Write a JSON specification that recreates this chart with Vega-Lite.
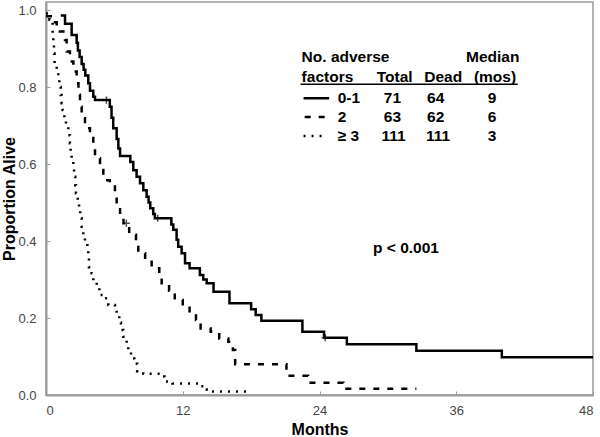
{
  "$schema": "https://vega.github.io/schema/vega-lite/v6.json",
  "autosize": "none",
  "width": 547,
  "height": 393,
  "padding": {"left": 46, "top": 2, "right": 7, "bottom": 42},
  "background": "white",
  "config": {
    "view": {"stroke": "#9a9a9a", "strokeWidth": 1.5},
    "axis": {
      "grid": false,
      "domainColor": "#9a9a9a",
      "domainWidth": 2,
      "tickColor": "#9a9a9a",
      "tickWidth": 1,
      "labelColor": "#444",
      "labelFont": "Liberation Sans",
      "labelFontSize": 13,
      "titleFont": "Liberation Sans",
      "titleFontSize": 16,
      "titleFontWeight": "bold",
      "titleColor": "#000"
    },
    "text": {"font": "Liberation Sans", "fontWeight": "bold", "fontSize": 15.5, "baseline": "middle", "color": "#000"}
  },
  "datasets": {
    "curves": [
      {"g": "a", "m": 1.3, "p": 0.986}, {"g": "a", "m": 1.67, "p": 0.964}, {"g": "a", "m": 2.25, "p": 0.935},
      {"g": "a", "m": 2.69, "p": 0.915}, {"g": "a", "m": 2.8, "p": 0.895}, {"g": "a", "m": 2.95, "p": 0.878},
      {"g": "a", "m": 3.13, "p": 0.86}, {"g": "a", "m": 3.3, "p": 0.845}, {"g": "a", "m": 3.45, "p": 0.83},
      {"g": "a", "m": 3.71, "p": 0.81}, {"g": "a", "m": 3.86, "p": 0.79}, {"g": "a", "m": 4.15, "p": 0.775},
      {"g": "a", "m": 4.3, "p": 0.766}, {"g": "a", "m": 5.6, "p": 0.749}, {"g": "a", "m": 5.75, "p": 0.72},
      {"g": "a", "m": 5.9, "p": 0.693}, {"g": "a", "m": 6.2, "p": 0.665}, {"g": "a", "m": 6.35, "p": 0.64},
      {"g": "a", "m": 6.5, "p": 0.621}, {"g": "a", "m": 7.4, "p": 0.605}, {"g": "a", "m": 7.66, "p": 0.584},
      {"g": "a", "m": 7.95, "p": 0.567}, {"g": "a", "m": 8.25, "p": 0.55}, {"g": "a", "m": 8.54, "p": 0.532},
      {"g": "a", "m": 8.83, "p": 0.515}, {"g": "a", "m": 9.0, "p": 0.5}, {"g": "a", "m": 9.15, "p": 0.485},
      {"g": "a", "m": 9.41, "p": 0.47}, {"g": "a", "m": 9.55, "p": 0.459}, {"g": "a", "m": 11.0, "p": 0.443},
      {"g": "a", "m": 11.17, "p": 0.429}, {"g": "a", "m": 11.46, "p": 0.403}, {"g": "a", "m": 11.6, "p": 0.385},
      {"g": "a", "m": 11.9, "p": 0.368}, {"g": "a", "m": 12.2, "p": 0.342}, {"g": "a", "m": 12.6, "p": 0.329},
      {"g": "a", "m": 13.5, "p": 0.312}, {"g": "a", "m": 13.8, "p": 0.3}, {"g": "a", "m": 14.1, "p": 0.29},
      {"g": "a", "m": 14.7, "p": 0.268}, {"g": "a", "m": 16.1, "p": 0.238}, {"g": "a", "m": 18.0, "p": 0.223},
      {"g": "a", "m": 18.4, "p": 0.208}, {"g": "a", "m": 18.9, "p": 0.193}, {"g": "a", "m": 22.5, "p": 0.164},
      {"g": "a", "m": 24.4, "p": 0.149}, {"g": "a", "m": 26.4, "p": 0.132}, {"g": "a", "m": 32.5, "p": 0.115},
      {"g": "a", "m": 40.0, "p": 0.098}, {"g": "a", "m": 48.0, "p": 0.098},

      {"g": "b", "m": 0, "p": 0.984}, {"g": "b", "m": 0.64, "p": 0.968}, {"g": "b", "m": 0.94, "p": 0.944},
      {"g": "b", "m": 1.67, "p": 0.922}, {"g": "b", "m": 1.81, "p": 0.892}, {"g": "b", "m": 2.1, "p": 0.866},
      {"g": "b", "m": 2.4, "p": 0.84}, {"g": "b", "m": 2.69, "p": 0.81}, {"g": "b", "m": 2.85, "p": 0.78},
      {"g": "b", "m": 2.98, "p": 0.749}, {"g": "b", "m": 3.13, "p": 0.719}, {"g": "b", "m": 3.42, "p": 0.693},
      {"g": "b", "m": 3.86, "p": 0.671}, {"g": "b", "m": 4.15, "p": 0.641}, {"g": "b", "m": 4.3, "p": 0.615},
      {"g": "b", "m": 4.74, "p": 0.589}, {"g": "b", "m": 5.03, "p": 0.558}, {"g": "b", "m": 5.6, "p": 0.545},
      {"g": "b", "m": 6.05, "p": 0.519}, {"g": "b", "m": 6.2, "p": 0.489}, {"g": "b", "m": 6.5, "p": 0.468},
      {"g": "b", "m": 6.8, "p": 0.446}, {"g": "b", "m": 7.3, "p": 0.416}, {"g": "b", "m": 7.9, "p": 0.396},
      {"g": "b", "m": 8.1, "p": 0.368}, {"g": "b", "m": 8.7, "p": 0.346}, {"g": "b", "m": 9.27, "p": 0.329},
      {"g": "b", "m": 9.94, "p": 0.312}, {"g": "b", "m": 10.15, "p": 0.286}, {"g": "b", "m": 10.8, "p": 0.271},
      {"g": "b", "m": 11.3, "p": 0.247}, {"g": "b", "m": 12.0, "p": 0.232}, {"g": "b", "m": 12.6, "p": 0.213},
      {"g": "b", "m": 13.16, "p": 0.195}, {"g": "b", "m": 13.57, "p": 0.173}, {"g": "b", "m": 14.45, "p": 0.164},
      {"g": "b", "m": 15.2, "p": 0.147}, {"g": "b", "m": 16.0, "p": 0.138}, {"g": "b", "m": 16.4, "p": 0.117},
      {"g": "b", "m": 16.6, "p": 0.08}, {"g": "b", "m": 21.1, "p": 0.05}, {"g": "b", "m": 23.0, "p": 0.032},
      {"g": "b", "m": 26.1, "p": 0.016}, {"g": "b", "m": 32.5, "p": 0.016},

      {"g": "c", "m": 0, "p": 0.991}, {"g": "c", "m": 0.3, "p": 0.975}, {"g": "c", "m": 0.58, "p": 0.935},
      {"g": "c", "m": 0.64, "p": 0.909}, {"g": "c", "m": 0.7, "p": 0.887}, {"g": "c", "m": 0.75, "p": 0.861},
      {"g": "c", "m": 0.94, "p": 0.844}, {"g": "c", "m": 1.08, "p": 0.822}, {"g": "c", "m": 1.17, "p": 0.8},
      {"g": "c", "m": 1.29, "p": 0.779}, {"g": "c", "m": 1.37, "p": 0.758}, {"g": "c", "m": 1.46, "p": 0.74},
      {"g": "c", "m": 1.61, "p": 0.718}, {"g": "c", "m": 1.75, "p": 0.697}, {"g": "c", "m": 1.96, "p": 0.675},
      {"g": "c", "m": 2.1, "p": 0.654}, {"g": "c", "m": 2.16, "p": 0.632}, {"g": "c", "m": 2.25, "p": 0.61},
      {"g": "c", "m": 2.4, "p": 0.589}, {"g": "c", "m": 2.46, "p": 0.567}, {"g": "c", "m": 2.57, "p": 0.545},
      {"g": "c", "m": 2.63, "p": 0.524}, {"g": "c", "m": 2.78, "p": 0.502}, {"g": "c", "m": 2.9, "p": 0.48},
      {"g": "c", "m": 3.0, "p": 0.459}, {"g": "c", "m": 3.13, "p": 0.437}, {"g": "c", "m": 3.27, "p": 0.417},
      {"g": "c", "m": 3.42, "p": 0.397}, {"g": "c", "m": 3.63, "p": 0.377}, {"g": "c", "m": 3.71, "p": 0.355},
      {"g": "c", "m": 3.77, "p": 0.332}, {"g": "c", "m": 4.0, "p": 0.316}, {"g": "c", "m": 4.15, "p": 0.296},
      {"g": "c", "m": 4.45, "p": 0.279}, {"g": "c", "m": 4.68, "p": 0.26}, {"g": "c", "m": 5.18, "p": 0.251},
      {"g": "c", "m": 5.47, "p": 0.234}, {"g": "c", "m": 6.05, "p": 0.225}, {"g": "c", "m": 6.2, "p": 0.205},
      {"g": "c", "m": 6.43, "p": 0.188}, {"g": "c", "m": 6.58, "p": 0.169}, {"g": "c", "m": 6.78, "p": 0.151},
      {"g": "c", "m": 7.08, "p": 0.134}, {"g": "c", "m": 7.22, "p": 0.112}, {"g": "c", "m": 7.46, "p": 0.095},
      {"g": "c", "m": 7.75, "p": 0.081}, {"g": "c", "m": 8.0, "p": 0.062}, {"g": "c", "m": 8.54, "p": 0.055},
      {"g": "c", "m": 10.0, "p": 0.048}, {"g": "c", "m": 10.4, "p": 0.035}, {"g": "c", "m": 11.1, "p": 0.03},
      {"g": "c", "m": 13.5, "p": 0.023}, {"g": "c", "m": 13.9, "p": 0.014}, {"g": "c", "m": 14.1, "p": 0.009},
      {"g": "c", "m": 18.0, "p": 0.009}
    ],
    "censored": [
      {"g": "a", "m": 5.3, "p": 0.766}, {"g": "a", "m": 9.8, "p": 0.459},
      {"g": "a", "m": 24.5, "p": 0.149}, {"g": "b", "m": 7.05, "p": 0.446}
    ],
    "keys": [
      {"g": "a", "m": 22.6, "p": 0.771}, {"g": "a", "m": 24.85, "p": 0.771},
      {"g": "b", "m": 22.7, "p": 0.722}, {"g": "b", "m": 24.6, "p": 0.722},
      {"g": "c", "m": 22.6, "p": 0.673}, {"g": "c", "m": 24.7, "p": 0.673}
    ],
    "leftText": [
      {"t": "No. adverse", "m": 22.43, "p": 0.879},
      {"t": "factors", "m": 22.43, "p": 0.827},
      {"t": "0-1", "m": 25.6, "p": 0.771},
      {"t": "2", "m": 25.6, "p": 0.722},
      {"t": "≥ 3", "m": 25.6, "p": 0.673},
      {"t": "p < 0.001", "m": 28.7, "p": 0.381}
    ],
    "centerText": [
      {"t": "Median", "m": 39.2, "p": 0.879},
      {"t": "Total", "m": 30.6, "p": 0.827},
      {"t": "Dead", "m": 34.85, "p": 0.827},
      {"t": "(mos)", "m": 39.4, "p": 0.827},
      {"t": "71", "m": 30.4, "p": 0.771},
      {"t": "64", "m": 34.2, "p": 0.771},
      {"t": "9", "m": 39.15, "p": 0.771},
      {"t": "63", "m": 30.4, "p": 0.722},
      {"t": "62", "m": 34.2, "p": 0.722},
      {"t": "6", "m": 39.15, "p": 0.722},
      {"t": "111", "m": 30.5, "p": 0.673},
      {"t": "111", "m": 34.4, "p": 0.673},
      {"t": "3", "m": 39.15, "p": 0.673}
    ],
    "underline": [
      {"m": 22.34, "m2": 41.4, "p": 0.807}
    ]
  },
  "layer": [
    {
      "data": {"name": "curves"},
      "mark": {"type": "line", "interpolate": "step-after", "color": "#000", "strokeWidth": 2.5, "strokeCap": "butt"},
      "encoding": {
        "x": {"field": "m", "type": "quantitative", "scale": {"domain": [0, 48], "nice": false},
              "axis": {"title": "Months", "values": [0, 12, 24, 36, 48], "tickSize": -4, "labelPadding": 13, "titlePadding": 4}},
        "y": {"field": "p", "type": "quantitative", "scale": {"domain": [0, 1.0208], "nice": false},
              "axis": {"title": "Proportion Alive", "values": [0, 0.2, 0.4, 0.6, 0.8, 1.0], "format": ".1f", "tickSize": -4, "labelPadding": 14, "titlePadding": 0}},
        "strokeDash": {"field": "g", "type": "nominal", "scale": {"domain": ["a", "b", "c"], "range": [[1, 0], [6, 8], [2, 6]]}, "legend": null},
        "order": {"field": "m", "type": "quantitative"}
      }
    },
    {
      "data": {"name": "keys"},
      "mark": {"type": "line", "color": "#000", "strokeWidth": 2.5, "strokeCap": "butt"},
      "encoding": {
        "x": {"field": "m", "type": "quantitative"},
        "y": {"field": "p", "type": "quantitative"},
        "strokeDash": {"field": "g", "type": "nominal", "legend": null}
      }
    },
    {
      "data": {"name": "censored"},
      "mark": {"type": "point", "shape": "M-1,0L1,0M0,-1L0,1", "size": 50, "stroke": "#000", "strokeWidth": 1.5, "filled": false},
      "encoding": {
        "x": {"field": "m", "type": "quantitative"},
        "y": {"field": "p", "type": "quantitative"}
      }
    },
    {
      "data": {"name": "underline"},
      "mark": {"type": "rule", "color": "#000", "strokeWidth": 1.5},
      "encoding": {
        "x": {"field": "m", "type": "quantitative"},
        "x2": {"field": "m2"},
        "y": {"field": "p", "type": "quantitative"}
      }
    },
    {
      "data": {"name": "leftText"},
      "mark": {"type": "text", "align": "left"},
      "encoding": {
        "x": {"field": "m", "type": "quantitative"},
        "y": {"field": "p", "type": "quantitative"},
        "text": {"field": "t"}
      }
    },
    {
      "data": {"name": "centerText"},
      "mark": {"type": "text", "align": "center"},
      "encoding": {
        "x": {"field": "m", "type": "quantitative"},
        "y": {"field": "p", "type": "quantitative"},
        "text": {"field": "t"}
      }
    }
  ]
}
